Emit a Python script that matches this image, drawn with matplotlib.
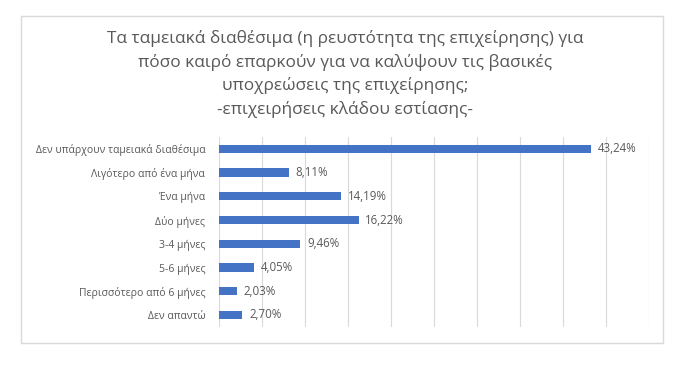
import matplotlib.pyplot as plt
from matplotlib.patches import Rectangle

categories = ['Δεν υπάρχουν ταμειακά διαθέσιμα', 'Λιγότερο από ένα μήνα', 'Ένα μήνα',
              'Δύο μήνες', '3-4 μήνες', '5-6 μήνες', 'Περισσότερο από 6 μήνες', 'Δεν απαντώ']
values = [43.24, 8.11, 14.19, 16.22, 9.46, 4.05, 2.03, 2.70]
title = ('Τα ταμειακά διαθέσιμα (η ρευστότητα της επιχείρησης) για\n'
         'πόσο καιρό επαρκούν για να καλύψουν τις βασικές\n'
         'υποχρεώσεις της επιχείρησης;\n'
         '-επιχειρήσεις κλάδου εστίασης-')

plt.rcParams['font.family'] = ['Open Sans', 'DejaVu Sans']
gray = '#595959'

fig = plt.figure(figsize=(7, 3.71), dpi=100)
ax = fig.add_axes([0.313, 0.119, 0.614, 0.512])

pos = list(range(len(categories)))
ax.barh(pos, values, height=0.35, color='#4472C4', zorder=3)
for p, v in zip(pos, values):
    ax.text(v + 0.8, p, ('%.2f%%' % v).replace('.', ','), va='center', ha='left',
            fontsize=8.3, color=gray)

ax.set_yticks(pos)
ax.set_yticklabels(categories, fontsize=7.5, color=gray)
ax.set_ylim(len(categories) - 0.5, -0.5)
ax.set_xlim(0, 50)
ax.set_xticks(range(0, 51, 5))
ax.tick_params(axis='x', length=0, labelbottom=False)
ax.tick_params(axis='y', length=0, pad=10)
ax.grid(axis='x', color='#D9D9D9', linewidth=0.8, zorder=0)
for s in ax.spines.values():
    s.set_visible(False)

fig.text(0.493, 0.918, title, ha='center', va='top', fontsize=12.4, color=gray, linespacing=1.5)

fig.patches.append(Rectangle((21 / 700, 1 - 343 / 371), 642 / 700, 327 / 371,
                             transform=fig.transFigure, fill=False, edgecolor='#D9D9D9', linewidth=1))

fig.savefig('out.png', dpi=100)
